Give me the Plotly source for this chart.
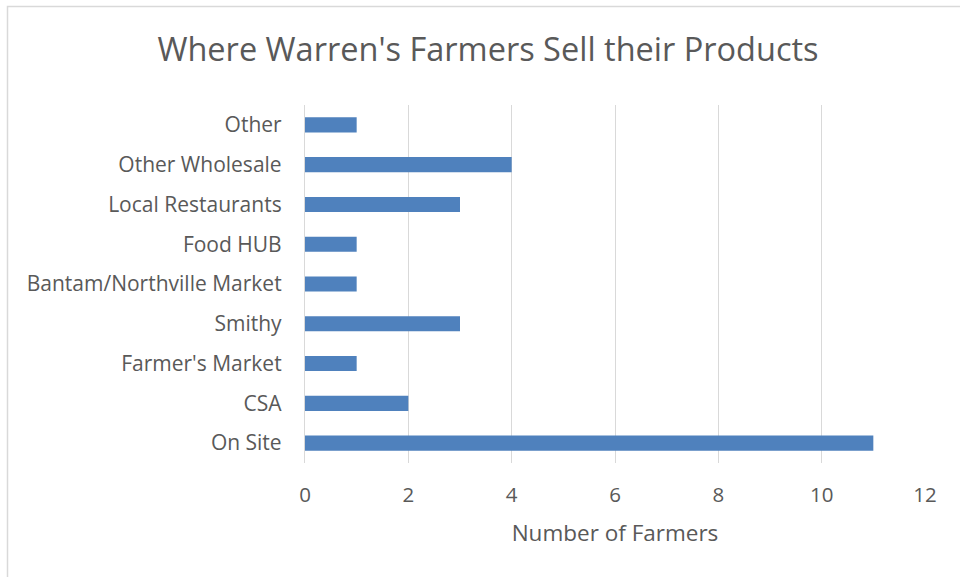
import plotly.graph_objects as go

categories = ["On Site", "CSA", "Farmer's Market", "Smithy", "Bantam/Northville Market",
              "Food HUB", "Local Restaurants", "Other Wholesale", "Other"]
farmers = [11, 2, 1, 3, 1, 1, 3, 4, 1]
x_ticks = [0, 2, 4, 6, 8, 10, 12]

W, H = 960, 577
L, R, T, B = 305, 35, 105, 114
pw, ph = W - L - R, H - T - B

def px_to_paper_x(px):
    return (px - L) / pw

def px_to_paper_y(py):
    return 1 - (py - T) / ph

TXT = "#595959"
FONT = "Open Sans"

fig = go.Figure(go.Bar(
    x=farmers, y=categories, orientation="h",
    marker=dict(color="#4F81BD", line=dict(width=0)),
))

fig.update_layout(
    width=W, height=H,
    margin=dict(l=L, r=R, t=T, b=B, autoexpand=False),
    paper_bgcolor="white", plot_bgcolor="white",
    bargap=0.62,
    showlegend=False,
    font=dict(family=FONT, color=TXT),
    title=dict(text="Where Warren's Farmers Sell their Products",
               x=px_to_paper_x(488), xref="paper", xanchor="center",
               y=1 - 50 / H, yref="container", yanchor="middle",
               font=dict(family=FONT, size=32.5, color=TXT)),
    xaxis=dict(range=[0, 12], tickvals=x_ticks, showgrid=True, gridcolor="#D9D9D9",
               gridwidth=1.3, zeroline=False, showline=False, ticks="",
               tickfont=dict(family=FONT, size=20.5, color=TXT),
               ticklabelstandoff=17,
               title=dict(text="Number of Farmers", font=dict(family=FONT, size=22.5, color=TXT),
                          standoff=18)),
    yaxis=dict(showline=True, linecolor="#D9D9D9", linewidth=1.3, ticks="",
               showgrid=False, tickfont=dict(family=FONT, size=21, color=TXT),
               ticklabelstandoff=18),
    shapes=[dict(type="rect", xref="paper", yref="paper",
                 x0=px_to_paper_x(7.5), x1=px_to_paper_x(975),
                 y0=px_to_paper_y(590), y1=px_to_paper_y(6.5),
                 line=dict(color="#D9D9D9", width=1.5), fillcolor="rgba(0,0,0,0)",
                 layer="below")],
)

fig.write_html("out.html")
